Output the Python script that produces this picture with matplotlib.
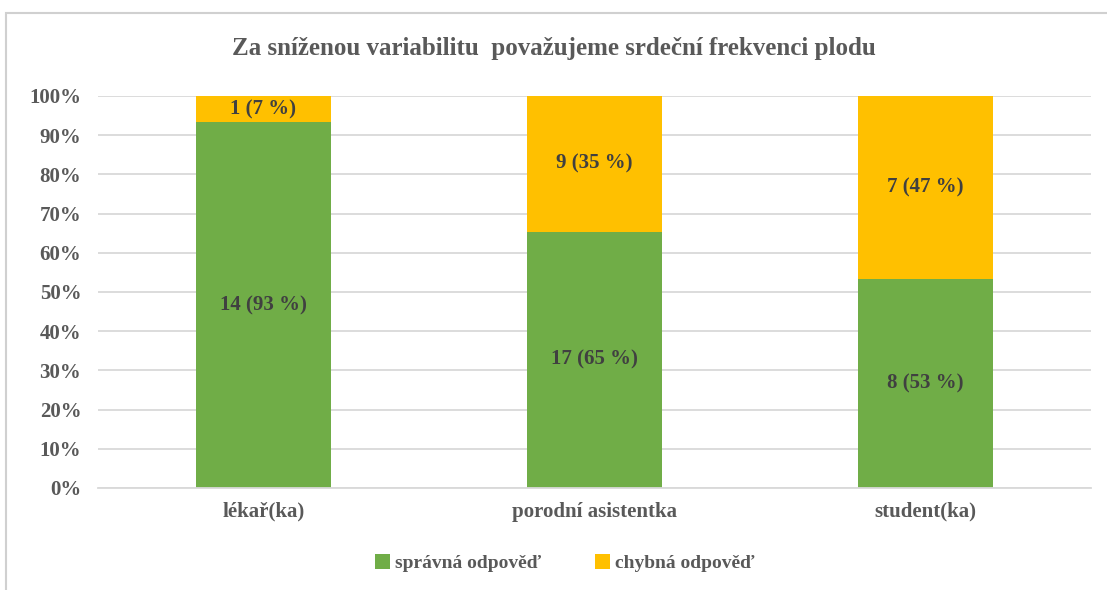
import numpy as np
import matplotlib.pyplot as plt
from matplotlib.patches import Rectangle

categories = ["lékař(ka)", "porodní asistentka", "student(ka)"]
correct = [14, 17, 8]
wrong = [1, 9, 7]
series_names = ["správná odpověď", "chybná odpověď"]
title = "Za sníženou variabilitu  považujeme srdeční frekvenci plodu"

GREEN = "#70AD47"
YELLOW = "#FFC000"
TEXT = "#595959"
GRID = "#D9D9D9"

plt.rcParams['font.family'] = ['Liberation Serif', 'DejaVu Serif']

correct = np.array(correct, dtype=float)
wrong = np.array(wrong, dtype=float)
total = correct + wrong
p_ok = correct / total * 100
p_bad = wrong / total * 100

fig = plt.figure(figsize=(11.07, 5.90), dpi=100)
ax = fig.add_axes([0.0885, 0.1729, 0.897, 0.6644])

# chart frame
fig.patches.append(Rectangle((0.005, -0.01), 1.2, 0.988, transform=fig.transFigure,
                             fill=False, edgecolor="#D0D0D0", linewidth=1.5))

x = np.arange(len(categories))
w = 0.41
ax.bar(x, p_ok, w, color=GREEN, label=series_names[0], zorder=2)
ax.bar(x, p_bad, w, bottom=p_ok, color=YELLOW, label=series_names[1], zorder=2)

fs = 15
for i in range(len(x)):
    ax.text(x[i], p_ok[i] / 2, f"{int(correct[i])} ({round(p_ok[i]):.0f} %)",
            ha="center", va="center", fontsize=fs, fontweight="bold", color="#404040")
    ax.text(x[i], p_ok[i] + p_bad[i] / 2, f"{int(wrong[i])} ({round(p_bad[i]):.0f} %)",
            ha="center", va="center", fontsize=fs, fontweight="bold", color="#404040")

ax.set_xlim(-0.5, 2.5)
ax.set_ylim(0, 100)
ax.set_yticks(np.arange(0, 101, 10))
ax.set_yticklabels([f"{v}%" for v in range(0, 101, 10)])
ax.set_xticks(x)
ax.set_xticklabels(categories)
ax.yaxis.grid(True, color=GRID, linewidth=1.3, zorder=0)
ax.set_axisbelow(True)
for s in ["top", "right", "left"]:
    ax.spines[s].set_visible(False)
ax.spines["bottom"].set_color(GRID)
ax.spines["bottom"].set_linewidth(1.3)
ax.tick_params(axis="both", length=0, colors=TEXT, labelsize=fs)
ax.tick_params(axis="y", pad=12)
ax.tick_params(axis="x", pad=10)
for lab in ax.get_xticklabels() + ax.get_yticklabels():
    lab.set_fontweight("bold")

fig.text(0.5, 0.918, title, ha="center", va="center", fontsize=18,
         fontweight="bold", color=TEXT)

leg = fig.legend(loc="center", bbox_to_anchor=(0.51, 0.045), ncol=2, frameon=False,
                 handlelength=0.75, handleheight=0.75, handletextpad=0.25,
                 columnspacing=2.8, prop={"size": 14, "weight": "bold"})
for t in leg.get_texts():
    t.set_color(TEXT)

fig.savefig("out.png", dpi=100)
